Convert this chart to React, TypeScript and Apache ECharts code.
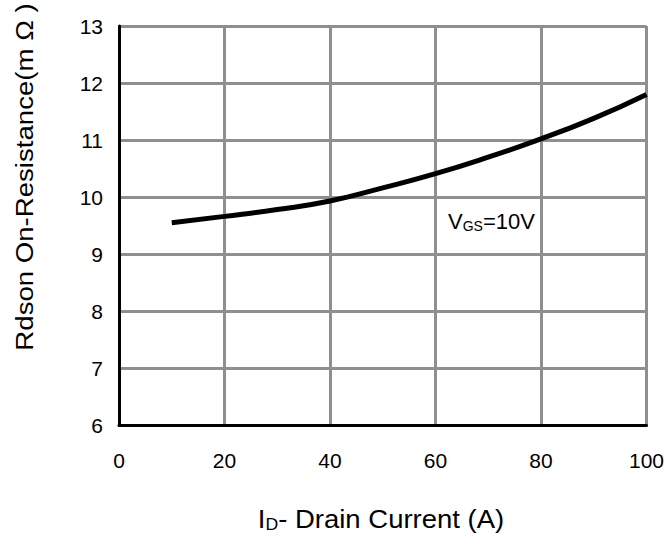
import React, { useEffect, useRef } from "react";
import * as echarts from "echarts";

const currents = [10, 20, 30, 40, 50, 60, 70, 80, 90, 100];
const rdson = [9.55, 9.66, 9.78, 9.93, 10.16, 10.41, 10.7, 11.02, 11.38, 11.8];
const xTicks = [0, 20, 40, 60, 80, 100];
const yTicks = [6, 7, 8, 9, 10, 11, 12, 13];

export default function App() {
  const ref = useRef<HTMLDivElement>(null);
  useEffect(() => {
    const chart = echarts.init(ref.current!, undefined, { renderer: "svg" });
    const font = "Liberation Sans, Arial, sans-serif";
    chart.setOption({
      animation: false,
      backgroundColor: "#ffffff",
      grid: { left: 119, right: 19, top: 26, bottom: 109 },
      xAxis: {
        type: "value",
        min: xTicks[0],
        max: xTicks[xTicks.length - 1],
        interval: 20,
        axisLine: { show: true, onZero: false, lineStyle: { color: "#000", width: 3 } },
        axisTick: { show: false },
        axisLabel: { color: "#000", fontSize: 21, fontFamily: font, margin: 25 },
        splitLine: { show: true, lineStyle: { color: "#8f8f8f", width: 3 } },
      },
      yAxis: {
        type: "value",
        min: yTicks[0],
        max: yTicks[yTicks.length - 1],
        interval: 1,
        axisLine: { show: true, onZero: false, lineStyle: { color: "#000", width: 3 } },
        axisTick: { show: false },
        axisLabel: { color: "#000", fontSize: 21, fontFamily: font, margin: 16 },
        splitLine: { show: true, lineStyle: { color: "#8f8f8f", width: 3 } },
      },
      graphic: [
        {
          type: "text",
          x: 381,
          y: 519,
          scaleX: 1.1,
          style: {
            text: "{n|I}{s|D}{n|- Drain Current (A)}",
            align: "center",
            verticalAlign: "middle",
            rich: {
              n: { fontSize: 25, fontFamily: font, fill: "#000" },
              s: { fontSize: 16, fontFamily: font, fill: "#000", padding: [12, 0, 0, 0] },
            },
          },
        },
        {
          type: "text",
          x: 25,
          y: 177,
          rotation: Math.PI / 2,
          scaleX: 1.15,
          style: {
            text: "Rdson On-Resistance(m Ω )",
            align: "center",
            verticalAlign: "middle",
            fontSize: 24,
            fontFamily: font,
            fill: "#000",
          },
        },
        {
          type: "text",
          x: 448,
          y: 221,
          style: {
            text: "{n|V}{s|GS}{n|=10V}",
            align: "left",
            verticalAlign: "middle",
            rich: {
              n: { fontSize: 22, fontFamily: font, fill: "#000" },
              s: { fontSize: 14, fontFamily: font, fill: "#000", padding: [10, 0, 0, 0] },
            },
          },
        },
      ],
      series: [
        {
          type: "line",
          data: currents.map((c, i) => [c, rdson[i]]),
          smooth: true,
          showSymbol: false,
          lineStyle: { color: "#000", width: 5 },
        },
      ],
    });
    return () => chart.dispose();
  }, []);
  return <div ref={ref} style={{ width: 667, height: 534, position: "absolute", left: 0, top: 0 }} />;
}
